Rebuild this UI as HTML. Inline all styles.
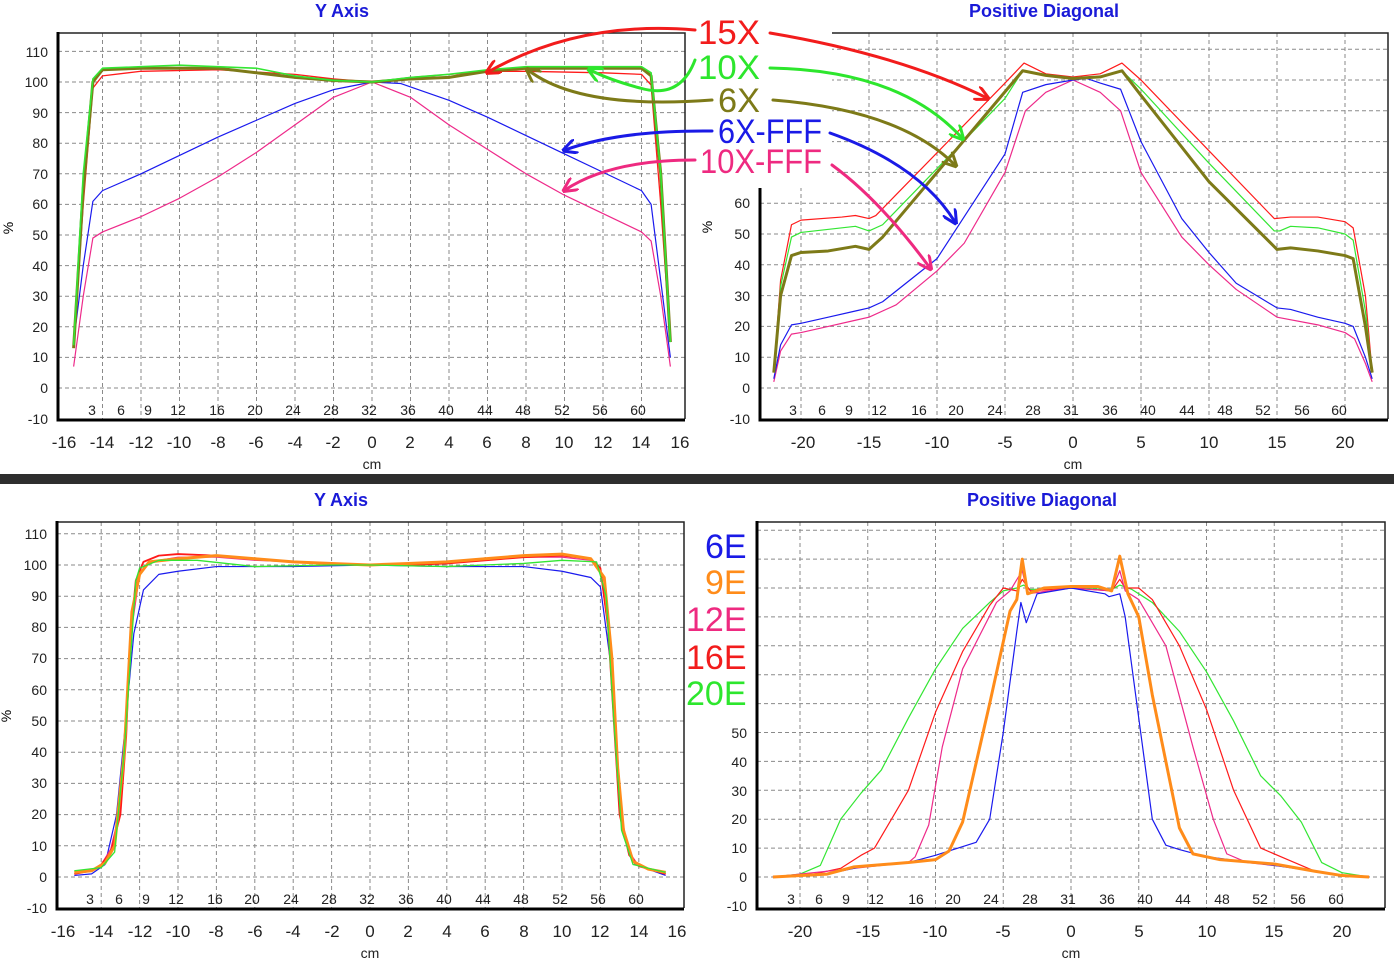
<!DOCTYPE html>
<html><head><meta charset="utf-8"><style>
html,body{margin:0;padding:0;background:#fff;}
svg{display:block;font-family:"Liberation Sans",sans-serif;}
.t{fill:#1a1ad8;font-weight:bold;font-size:18px;text-anchor:middle;}
.yl{font-size:14px;text-anchor:end;fill:#222;}
.xl{font-size:17px;text-anchor:middle;fill:#222;}
.sl{font-size:14px;text-anchor:middle;fill:#222;}
.g{stroke:#8a8a8a;stroke-width:1;stroke-dasharray:4 3;fill:none;}
.c{fill:none;vector-effect:non-scaling-stroke;stroke-linejoin:round;}
</style></head><body>
<svg width="1394" height="962" viewBox="0 0 1394 962" xmlns="http://www.w3.org/2000/svg">
<defs>
<marker id="aR" viewBox="0 0 10 10" refX="8" refY="5" markerWidth="5" markerHeight="5" orient="auto"><path d="M0 0L10 5L0 10" fill="none" stroke="#f21c1c" stroke-width="2"/></marker>
<marker id="aG" viewBox="0 0 10 10" refX="8" refY="5" markerWidth="5" markerHeight="5" orient="auto"><path d="M0 0L10 5L0 10" fill="none" stroke="#2de62d" stroke-width="2"/></marker>
<marker id="aO" viewBox="0 0 10 10" refX="8" refY="5" markerWidth="5" markerHeight="5" orient="auto"><path d="M0 0L10 5L0 10" fill="none" stroke="#7d7a18" stroke-width="2"/></marker>
<marker id="aB" viewBox="0 0 10 10" refX="8" refY="5" markerWidth="5" markerHeight="5" orient="auto"><path d="M0 0L10 5L0 10" fill="none" stroke="#1a1ae6" stroke-width="2"/></marker>
<marker id="aP" viewBox="0 0 10 10" refX="8" refY="5" markerWidth="5" markerHeight="5" orient="auto"><path d="M0 0L10 5L0 10" fill="none" stroke="#ee2a80" stroke-width="2"/></marker>
</defs>

<rect x="0" y="474" width="1394" height="10" fill="#2e2e2e"/>

<!-- ===== TOP LEFT ===== -->
<text class="t" x="342" y="17">Y Axis</text>
<path class="g" d="M58 51.4H685M58 82H685M58 112.6H685M58 143.2H685M58 173.8H685M58 204.4H685M58 235H685M58 265.6H685M58 296.2H685M58 326.8H685M58 357.4H685M58 388H685M102.5 33V419M141 33V419M179.5 33V419M218 33V419M256.5 33V419M295 33V419M333.5 33V419M372 33V419M410.5 33V419M449 33V419M487.5 33V419M526 33V419M564.5 33V419M603 33V419M641.5 33V419"/>
<path d="M58 33H685V419" fill="none" stroke="#222" stroke-width="1.5"/>
<path d="M58 32V420H685" fill="none" stroke="#000" stroke-width="3"/>
<g>
<text class="yl" x="48" y="57">110</text><text class="yl" x="48" y="87">100</text><text class="yl" x="48" y="118">90</text><text class="yl" x="48" y="148">80</text><text class="yl" x="48" y="179">70</text><text class="yl" x="48" y="209">60</text><text class="yl" x="48" y="240">50</text><text class="yl" x="48" y="271">40</text><text class="yl" x="48" y="301">30</text><text class="yl" x="48" y="332">20</text><text class="yl" x="48" y="362">10</text><text class="yl" x="48" y="393">0</text><text class="yl" x="48" y="424">-10</text>
</g>
<g>
<text class="xl" x="64" y="448">-16</text><text class="xl" x="102" y="448">-14</text><text class="xl" x="141" y="448">-12</text><text class="xl" x="179" y="448">-10</text><text class="xl" x="218" y="448">-8</text><text class="xl" x="256" y="448">-6</text><text class="xl" x="295" y="448">-4</text><text class="xl" x="333" y="448">-2</text><text class="xl" x="372" y="448">0</text><text class="xl" x="410" y="448">2</text><text class="xl" x="449" y="448">4</text><text class="xl" x="487" y="448">6</text><text class="xl" x="526" y="448">8</text><text class="xl" x="564" y="448">10</text><text class="xl" x="603" y="448">12</text><text class="xl" x="641" y="448">14</text><text class="xl" x="680" y="448">16</text>
</g>
<g>
<text class="sl" x="92" y="415">3</text><text class="sl" x="121" y="415">6</text><text class="sl" x="148" y="415">9</text><text class="sl" x="178" y="415">12</text><text class="sl" x="217" y="415">16</text><text class="sl" x="255" y="415">20</text><text class="sl" x="293" y="415">24</text><text class="sl" x="331" y="415">28</text><text class="sl" x="369" y="415">32</text><text class="sl" x="408" y="415">36</text><text class="sl" x="446" y="415">40</text><text class="sl" x="485" y="415">44</text><text class="sl" x="523" y="415">48</text><text class="sl" x="562" y="415">52</text><text class="sl" x="600" y="415">56</text><text class="sl" x="638" y="415">60</text>
</g>
<text class="xl" x="372" y="469" style="font-size:14px">cm</text>
<text x="13" y="228" style="font-size:14px" transform="rotate(-90 13 228)" text-anchor="middle">%</text>
<g transform="matrix(19.25 0 0 -3.06 372 388)">
<polyline class="c" stroke="#ee2a8a" stroke-width="1.2" points="-15.5,7 -15,30 -14.5,49 -14,51 -12,56 -10,62 -8,69 -6,77 -4,86 -2,95 0,100 2,95 4,86 6,78 8,70 10,63 12,57 14,51 14.5,48 15,30 15.5,7"/>
<polyline class="c" stroke="#1a1aee" stroke-width="1.2" points="-15.5,15 -15,40 -14.5,61 -14,64.5 -12,70 -10,76 -8,82 -6,87.5 -4,93 -2,97.5 0,100 1.5,99.5 4,94 6,88.5 8,82.5 10,76.5 12,70.5 14,64.5 14.5,60 15,35 15.5,10"/>
<polyline class="c" stroke="#ff1a1a" stroke-width="1.3" points="-15.5,14 -15,60 -14.5,98 -14,102 -12,103.5 -8,104 -4,102.5 -2,101 0,100 2,101.5 4,102.5 6,103.5 8,103.5 12,103 14,102.5 14.5,99 15,60 15.5,15"/>
<polyline class="c" stroke="#7d7a18" stroke-width="3" points="-15.5,13 -15,65 -14.5,100 -14,104 -12,104.5 -8,104.5 -4,101.5 -2,100.5 0,100 2,101 4,101.5 6,103.5 8,104.5 12,104.5 14,104.5 14.5,102 15,70 15.5,15"/>
<polyline class="c" stroke="#33e633" stroke-width="1.6" points="-15.5,14 -15,70 -14.5,101 -14,104.5 -12,105 -10,105.5 -6,104.5 -4,102 -2,100.5 0,100 2,101.5 4,102.5 6,104 8,105 12,105 14,105 14.5,103 15,70 15.5,15"/>
</g>

<!-- ===== TOP RIGHT ===== -->
<text class="t" x="1044" y="17">Positive Diagonal</text>
<path class="g" d="M760 49.2H1388M760 80H1388M760 110.8H1388M760 141.6H1388M760 172.4H1388M760 203.2H1388M760 234H1388M760 264.8H1388M760 295.6H1388M760 326.4H1388M760 357.2H1388M760 388H1388M801 33V419M869 33V419M937 33V419M1005 33V419M1073 33V419M1141 33V419M1209 33V419M1277 33V419M1345 33V419"/>
<path d="M760 33H1388V419" fill="none" stroke="#222" stroke-width="1.5"/>
<path d="M760 32V420H1388" fill="none" stroke="#000" stroke-width="3"/>
<g>
<text class="yl" x="750" y="208">60</text><text class="yl" x="750" y="239">50</text><text class="yl" x="750" y="270">40</text><text class="yl" x="750" y="301">30</text><text class="yl" x="750" y="331">20</text><text class="yl" x="750" y="362">10</text><text class="yl" x="750" y="393">0</text><text class="yl" x="750" y="424">-10</text>
</g>
<g>
<text class="xl" x="803" y="448">-20</text><text class="xl" x="869" y="448">-15</text><text class="xl" x="937" y="448">-10</text><text class="xl" x="1005" y="448">-5</text><text class="xl" x="1073" y="448">0</text><text class="xl" x="1141" y="448">5</text><text class="xl" x="1209" y="448">10</text><text class="xl" x="1277" y="448">15</text><text class="xl" x="1345" y="448">20</text>
</g>
<g>
<text class="sl" x="793" y="415">3</text><text class="sl" x="822" y="415">6</text><text class="sl" x="849" y="415">9</text><text class="sl" x="879" y="415">12</text><text class="sl" x="919" y="415">16</text><text class="sl" x="956" y="415">20</text><text class="sl" x="995" y="415">24</text><text class="sl" x="1033" y="415">28</text><text class="sl" x="1071" y="415">31</text><text class="sl" x="1110" y="415">36</text><text class="sl" x="1148" y="415">40</text><text class="sl" x="1187" y="415">44</text><text class="sl" x="1225" y="415">48</text><text class="sl" x="1263" y="415">52</text><text class="sl" x="1302" y="415">56</text><text class="sl" x="1339" y="415">60</text>
</g>
<text class="xl" x="1073" y="469" style="font-size:14px">cm</text>
<text x="712" y="227" style="font-size:14px" transform="rotate(-90 712 227)" text-anchor="middle">%</text>
<g transform="matrix(13.6 0 0 -3.08 1073 388)">
<polyline class="c" stroke="#ee2a8a" stroke-width="1.2" points="-22,2 -21.5,12 -20.7,17.5 -20,18 -18,20 -16,22 -15,23 -13,27 -10,38 -8,47 -5,70 -3.5,90 -2,96 0,100 2,96 3.5,90 5,70 8,49 10,40 12,32 15,23 18,20.5 20,18 20.7,16 21.5,8 22,2"/>
<polyline class="c" stroke="#1a1aee" stroke-width="1.2" points="-22,3 -21.5,14 -20.7,20.5 -20,21 -18,23 -16,25 -15,26 -14,28 -10,42 -5,76 -3.7,96 -2,98.5 0,100 1,100.5 2,99 3.5,97 5,80 8,55 10,44 12,34 15,26 16,25.5 18,23 20,21 20.6,20 21.5,10 22,3"/>
<polyline class="c" stroke="#ff1a1a" stroke-width="1.2" points="-22,5 -21.5,35 -20.7,53 -20,54.5 -17,55.5 -16,56 -15,55 -14.5,56 -5,99 -3.6,105.5 -2,102 0,101 2,102 3.6,105.5 5,100 10,77 14.8,55 16,55.5 18,55.5 20,54 20.6,52 21.5,30 22,5"/>
<polyline class="c" stroke="#33e633" stroke-width="1.2" points="-22,5 -21.5,33 -20.7,49 -20,50.5 -16,52.5 -15,51 -14,53 -5,94 -3.7,103 -2,101.5 0,100.5 2,101 3.6,103 5,97 10,73 14.8,51 15.2,51 16,52.5 18,52 20,50 20.6,48 21.5,25 22,5"/>
<polyline class="c" stroke="#7d7a18" stroke-width="3" points="-22,5 -21.5,30 -20.7,43 -20,44 -18,44.5 -16,46 -15,45 -14,49 -3.7,103 -2,101.5 0,100.5 2,101 3.6,103 5,95 10,67 15,45 16,45.5 18,44.5 20,43 20.6,42 21.5,20 22,5"/>
</g>

<rect x="690" y="0" width="142" height="188" fill="#fff"/>
<g font-size="34">
<text x="698" y="44" fill="#f21c1c" textLength="62" lengthAdjust="spacingAndGlyphs">15X</text>
<text x="698" y="79" fill="#2de62d" textLength="62" lengthAdjust="spacingAndGlyphs">10X</text>
<text x="718" y="112" fill="#7d7a18" textLength="42" lengthAdjust="spacingAndGlyphs">6X</text>
<text x="718" y="143" fill="#1a1ae6" textLength="104" lengthAdjust="spacingAndGlyphs">6X-FFF</text>
<text x="700" y="173" fill="#ee2a80" textLength="122" lengthAdjust="spacingAndGlyphs">10X-FFF</text>
</g>
<g fill="none" stroke-width="3" stroke-linecap="round">
<path d="M695 30Q580 20 488 72" stroke="#f21c1c" marker-end="url(#aR)"/>
<path d="M770 33Q900 55 987 98" stroke="#f21c1c" marker-end="url(#aR)"/>
<path d="M695 60Q680 100 640 88Q610 80 590 70" stroke="#2de62d" marker-end="url(#aG)"/>
<path d="M770 68Q900 70 962 138" stroke="#2de62d" marker-end="url(#aG)"/>
<path d="M712 100Q580 110 528 70" stroke="#7d7a18" marker-end="url(#aO)"/>
<path d="M773 100Q900 110 955 165" stroke="#7d7a18" marker-end="url(#aO)"/>
<path d="M712 131Q620 130 565 150" stroke="#1a1ae6" marker-end="url(#aB)"/>
<path d="M830 133Q920 165 955 222" stroke="#1a1ae6" marker-end="url(#aB)"/>
<path d="M695 160Q610 160 565 190" stroke="#ee2a80" marker-end="url(#aP)"/>
<path d="M832 165Q880 200 930 268" stroke="#ee2a80" marker-end="url(#aP)"/>
</g>

<!-- ===== BOTTOM LEFT ===== -->
<text class="t" x="341" y="506">Y Axis</text>
<path class="g" d="M57 533.8H684M57 565H684M57 596.2H684M57 627.4H684M57 658.6H684M57 689.8H684M57 721H684M57 752.2H684M57 783.4H684M57 814.6H684M57 845.8H684M57 877H684M101.2 522V908M139.6 522V908M178 522V908M216.4 522V908M254.8 522V908M293.2 522V908M331.6 522V908M370 522V908M408.4 522V908M446.8 522V908M485.2 522V908M523.6 522V908M562 522V908M600.4 522V908M638.8 522V908"/>
<path d="M57 522H684V908" fill="none" stroke="#222" stroke-width="1.5"/>
<path d="M57 521V909H684" fill="none" stroke="#000" stroke-width="3"/>
<g>
<text class="yl" x="47" y="539">110</text><text class="yl" x="47" y="570">100</text><text class="yl" x="47" y="601">90</text><text class="yl" x="47" y="632">80</text><text class="yl" x="47" y="663">70</text><text class="yl" x="47" y="695">60</text><text class="yl" x="47" y="726">50</text><text class="yl" x="47" y="757">40</text><text class="yl" x="47" y="788">30</text><text class="yl" x="47" y="819">20</text><text class="yl" x="47" y="851">10</text><text class="yl" x="47" y="882">0</text><text class="yl" x="47" y="913">-10</text>
</g>
<g>
<text class="xl" x="63" y="937">-16</text><text class="xl" x="101" y="937">-14</text><text class="xl" x="140" y="937">-12</text><text class="xl" x="178" y="937">-10</text><text class="xl" x="216" y="937">-8</text><text class="xl" x="255" y="937">-6</text><text class="xl" x="293" y="937">-4</text><text class="xl" x="332" y="937">-2</text><text class="xl" x="370" y="937">0</text><text class="xl" x="408" y="937">2</text><text class="xl" x="447" y="937">4</text><text class="xl" x="485" y="937">6</text><text class="xl" x="524" y="937">8</text><text class="xl" x="562" y="937">10</text><text class="xl" x="600" y="937">12</text><text class="xl" x="639" y="937">14</text><text class="xl" x="677" y="937">16</text>
</g>
<g>
<text class="sl" x="90" y="904">3</text><text class="sl" x="119" y="904">6</text><text class="sl" x="146" y="904">9</text><text class="sl" x="176" y="904">12</text><text class="sl" x="215" y="904">16</text><text class="sl" x="252" y="904">20</text><text class="sl" x="291" y="904">24</text><text class="sl" x="329" y="904">28</text><text class="sl" x="367" y="904">32</text><text class="sl" x="406" y="904">36</text><text class="sl" x="444" y="904">40</text><text class="sl" x="483" y="904">44</text><text class="sl" x="521" y="904">48</text><text class="sl" x="560" y="904">52</text><text class="sl" x="598" y="904">56</text><text class="sl" x="636" y="904">60</text>
</g>
<text class="xl" x="370" y="958" style="font-size:14px">cm</text>
<text x="11" y="716" style="font-size:14px" transform="rotate(-90 11 716)" text-anchor="middle">%</text>
<g transform="matrix(19.2 0 0 -3.12 370 877)">
<polyline class="c" stroke="#1a1aee" stroke-width="1.2" points="-15.4,0.5 -14.5,1 -13.8,4 -13.2,20 -12.8,45 -12.3,78 -11.8,92 -11,97 -10,98 -8,99.5 -4,99.5 0,100 4,99.5 8,99.5 10,98 11.5,96 12,93 12.5,70 12.8,45 13.2,15 13.8,4 15.4,0.5"/>
<polyline class="c" stroke="#ee2a8a" stroke-width="1.2" points="-15.4,1 -14.5,2 -14,4 -13.5,9 -13,22 -12.7,48 -12.4,80 -12,97 -11.5,101 -10,102.5 -8,102.5 -6,101.5 -4,101 -2,100.5 0,100 2,100 4,100.5 6,101.5 8,102.5 10,102.5 11.5,101.5 12,98 12.4,80 12.7,50 13,22 13.5,8 14,3.5 15.4,1"/>
<polyline class="c" stroke="#ff1a1a" stroke-width="1.8" points="-15.4,1 -14.5,2 -14,4 -13.5,8 -13,20 -12.7,45 -12.5,75 -12.2,95 -11.8,101 -11,103 -10,103.5 -8,103 -6,102 -4,101 -2,100.5 0,100 2,100 4,100.5 6,101.5 8,102.5 10,103 11.5,102 12,99 12.4,80 12.7,50 13,20 13.5,7 14,3.5 15.4,1"/>
<polyline class="c" stroke="#ff8c1a" stroke-width="3" points="-15.4,1.5 -14.5,2 -13.8,4.5 -13.3,10 -12.8,40 -12.4,85 -12,97 -11.5,101 -10,102 -8,103 -6,102 -4,101 -2,100.5 0,100 2,100.5 4,101 6,102 8,103 10,103.5 11.5,102 12.2,96 12.6,70 12.9,35 13.2,15 13.7,5 14.5,2.5 15.4,1.5"/>
<polyline class="c" stroke="#33e633" stroke-width="1.3" points="-15.4,2 -14,3 -13.3,8 -12.8,40 -12.2,95 -12,99 -11,101.5 -9,101.5 -6,99.5 -2,100 0,100 4,99.5 8,100.5 10,101.5 11.8,101 12.3,90 12.7,50 13.1,15 13.7,4 15.4,1.5"/>
</g>

<!-- ===== BOTTOM RIGHT ===== -->
<text class="t" x="1042" y="506">Positive Diagonal</text>
<path class="g" d="M757 530.2H1385M757 559.1H1385M757 588H1385M757 616.9H1385M757 645.8H1385M757 674.7H1385M757 703.6H1385M757 732.5H1385M757 761.4H1385M757 790.3H1385M757 819.2H1385M757 848.1H1385M757 877H1385M800 522V908M867.75 522V908M935.5 522V908M1003.25 522V908M1071 522V908M1138.75 522V908M1206.5 522V908M1274.25 522V908M1342 522V908"/>
<path d="M757 522H1385V908" fill="none" stroke="#222" stroke-width="1.5"/>
<path d="M757 521V909H1385" fill="none" stroke="#000" stroke-width="3"/>
<g>
<text class="yl" x="747" y="738">50</text><text class="yl" x="747" y="767">40</text><text class="yl" x="747" y="796">30</text><text class="yl" x="747" y="824">20</text><text class="yl" x="747" y="853">10</text><text class="yl" x="747" y="882">0</text><text class="yl" x="747" y="911">-10</text>
</g>
<g>
<text class="xl" x="800" y="937">-20</text><text class="xl" x="868" y="937">-15</text><text class="xl" x="935" y="937">-10</text><text class="xl" x="1003" y="937">-5</text><text class="xl" x="1071" y="937">0</text><text class="xl" x="1139" y="937">5</text><text class="xl" x="1207" y="937">10</text><text class="xl" x="1274" y="937">15</text><text class="xl" x="1342" y="937">20</text>
</g>
<g>
<text class="sl" x="791" y="904">3</text><text class="sl" x="819" y="904">6</text><text class="sl" x="846" y="904">9</text><text class="sl" x="876" y="904">12</text><text class="sl" x="916" y="904">16</text><text class="sl" x="953" y="904">20</text><text class="sl" x="991" y="904">24</text><text class="sl" x="1030" y="904">28</text><text class="sl" x="1068" y="904">31</text><text class="sl" x="1107" y="904">36</text><text class="sl" x="1145" y="904">40</text><text class="sl" x="1183" y="904">44</text><text class="sl" x="1222" y="904">48</text><text class="sl" x="1260" y="904">52</text><text class="sl" x="1298" y="904">56</text><text class="sl" x="1336" y="904">60</text>
</g>
<text class="xl" x="1071" y="958" style="font-size:14px">cm</text>
<g transform="matrix(13.55 0 0 -2.89 1071 877)">
<polyline class="c" stroke="#33e633" stroke-width="1.2" points="-22,0 -20,1 -18.5,4 -17,20 -15.5,29 -14,37 -12,55 -10,72 -8,86 -6,95 -5,99 -4,100 -3.5,101 -3,99.5 0,100 3,99.5 3.6,101 4.5,99.5 6,95 8,85 10,71 12,54 14,35 15.5,28 17,19 18.5,5 20,1.5 22,0"/>
<polyline class="c" stroke="#ff1a1a" stroke-width="1.2" points="-22,0 -19,1 -17,3 -15.5,7.5 -14.5,10 -12,30 -10,57 -8,78 -6,94 -5,100 -4,99 -3.6,103 -3,99 0,100 3,99 3.6,103 4,100 5,100 6,96 8,80 10,58 12,30 14,10 16,6 18,2 20,0.5 22,0"/>
<polyline class="c" stroke="#ee2a8a" stroke-width="1.2" points="-22,0 -16,3 -12,5 -11.5,7 -10.5,18 -9.5,45 -8,72 -5.5,95 -4.5,99 -3.6,106 -3.2,98 0,100 3,99 3.6,106 4,99 5,96 7,80 9,45 10.5,20 11.5,8 13,5 16,3.5 20,0.5 22,0"/>
<polyline class="c" stroke="#1a1aee" stroke-width="1.2" points="-22,0 -19,0.5 -17,2 -15,4 -12,5 -10,7.5 -9,9 -7,12 -6,20 -5,50 -4,85 -3.7,95 -3.3,88 -2.5,98 0,100 2.5,98 2.8,97 3.6,98 4,90 5,55 6,20 7,11 8,9.5 10,7 15,4 18,2 20,0.5 22,0"/>
<polyline class="c" stroke="#ff8c1a" stroke-width="3" points="-22,0 -18,1 -16,3.5 -12,5 -10,6 -9,9 -8,19 -6,60 -4.5,92 -4,96 -3.6,110 -3.2,98 -2,100 0,100.5 2,100.5 3,99 3.6,111 4.2,98 5,90 6,63 8,17 9,8 11,6 15,4.5 18,2 20,0.5 22,0"/>
</g>

<rect x="686" y="524" width="66" height="190" fill="#fff"/>
<g font-size="34">
<text x="705" y="558" fill="#1a1ae6">6E</text>
<text x="705" y="594" fill="#ff8c1a">9E</text>
<text x="686" y="631" fill="#ee2a80">12E</text>
<text x="686" y="669" fill="#f21c1c">16E</text>
<text x="686" y="705" fill="#2de62d">20E</text>
</g>
</svg>
</body></html>
